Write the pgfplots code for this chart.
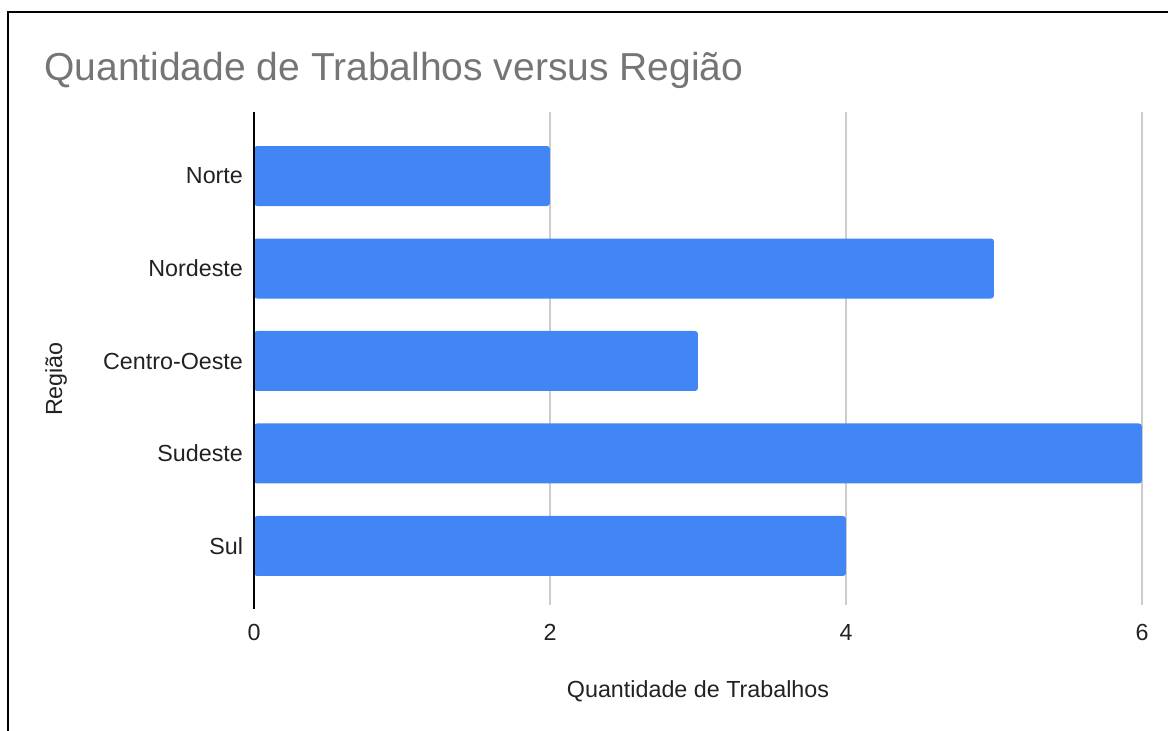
\documentclass[border=0pt]{standalone}
\usepackage{pgfplots}
\pgfplotsset{compat=1.18}
\usepackage{fontspec}
\setmainfont{Liberation Sans}
\definecolor{barblue}{HTML}{4285F4}
\definecolor{gridgray}{HTML}{CCCCCC}
\definecolor{titlegray}{HTML}{757575}
\definecolor{labelcol}{HTML}{222222}
\begin{document}
\begin{tikzpicture}
\path[use as bounding box] (0pt,0pt) rectangle (584pt,-365.5pt);
\draw[line width=1pt, black] (3.75pt,-366pt) -- (3.75pt,-6.25pt) -- (585pt,-6.25pt);
\node[anchor=base west, text=titlegray, inner sep=0pt, font=\fontsize{19.5pt}{23pt}\selectfont] at (22pt,-40.5pt) {Quantidade de Trabalhos versus Região};
\begin{axis}[
  at={(127pt,-302.5pt)}, anchor=south west,
  scale only axis, width=444pt, height=246.5pt,
  xbar, bar width=30pt,
  xmin=0, xmax=6, ymin=0.308, ymax=5.638,
  y dir=reverse,
  ytick={1,2,3,4,5},
  yticklabels={Norte,Nordeste,Centro-Oeste,Sudeste,Sul},
  xtick={0,2,4,6},
  xmajorgrids, grid style={gridgray, line width=0.7pt},
  major tick length=0pt,
  axis x line*=bottom, axis y line*=left,
  x axis line style={draw=none},
  y axis line style={draw=none},
  tick label style={text=labelcol, font=\fontsize{11.65pt}{14pt}\selectfont},
  /pgf/number format/assume math mode=true,
  x tick label style={yshift=-6pt},
  y tick label style={xshift=-2pt},
  xlabel={Quantidade de Trabalhos},
  xlabel style={at={(axis description cs:0.5,0)}, anchor=base, yshift=-46pt, text=labelcol, font=\fontsize{11.65pt}{14pt}\selectfont},
  clip=false,
]
\addplot[fill=barblue, draw=none, rounded corners=1.5pt] coordinates {(2,1) (5,2) (3,3) (6,4) (4,5)};
\end{axis}
\draw[black, line width=0.7pt] (127pt,-56pt) -- (127pt,-304.5pt);
\node[rotate=90, anchor=base, text=labelcol, inner sep=0pt, font=\fontsize{11.65pt}{14pt}\selectfont] at (31pt,-189.5pt) {Região};
\end{tikzpicture}
\end{document}
